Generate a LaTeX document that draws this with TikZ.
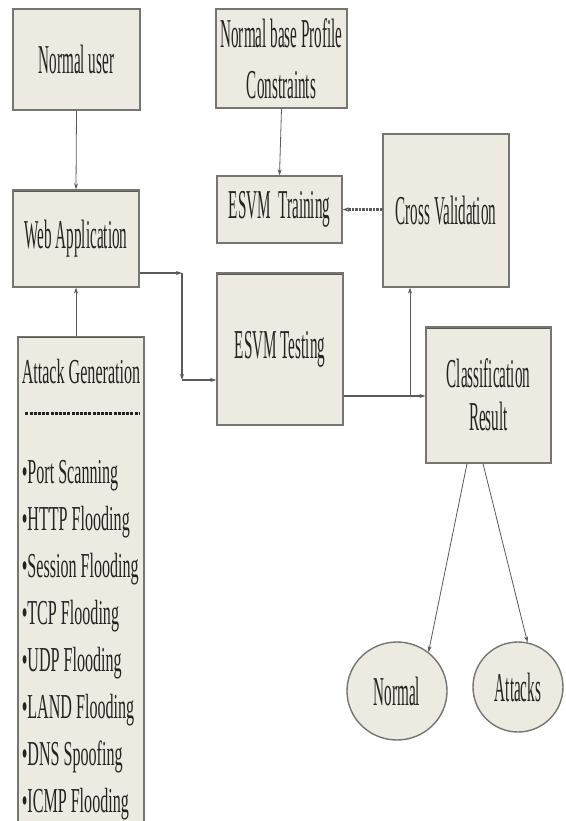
\documentclass[tikz,border=0pt]{standalone}
\usepackage{fontspec}
\setmainfont[FakeStretch=0.37]{Liberation Serif}
\usetikzlibrary{shapes.geometric,arrows.meta}
\definecolor{boxfill}{RGB}{237,235,225}
\definecolor{boxline}{RGB}{118,118,112}
\definecolor{inkgray}{RGB}{35,35,35}
\definecolor{wiregray}{RGB}{90,90,90}
\begin{document}
\begin{tikzpicture}[
        x=1pt, y=-1pt,
        box/.style={rectangle, draw=boxline, fill=boxfill, line width=1.4pt,
          text=inkgray, align=center, inner sep=2pt,
          font=\fontsize{41}{51}\selectfont,
          path picture={\draw[draw=boxline!75!black, line width=3pt]
            (path picture bounding box.north west) -- (path picture bounding box.north east);}},
        blob/.style={ellipse, draw=boxline, fill=boxfill, line width=1.4pt,
          text=inkgray, inner sep=0pt, font=\fontsize{41}{51}\selectfont},
        wire/.style={draw=wiregray, line width=0.8pt, -{Stealth[length=6pt,width=4pt]}},
        heavy/.style={wire, line width=2pt},
        dashwire/.style={wire, line width=2.6pt, dash pattern=on 2.5pt off 1pt}
      ]
      \useasboundingbox (0,0) rectangle (565,821);
      \node[box, minimum width=127pt, minimum height=101pt] (user) at (76.5,59.5) {Normal user};
      \node[box, minimum width=126pt, minimum height=97pt] (web) at (76,238.5) {Web Application};
      \node[box, minimum width=126pt, minimum height=478pt, align=left,
        font=\fontsize{35}{47}\selectfont\addfontfeature{FakeStretch=0.46}] (atk) at (81,579)
        {\rule{0pt}{45pt}Attack Generation\\[53pt]
         \textbullet Port Scanning\\
         \textbullet HTTP Flooding\\
         \textbullet Session Flooding\\
         \textbullet TCP Flooding\\
         \textbullet UDP Flooding\\
         \textbullet LAND Flooding\\
         \textbullet DNS Spoofing\\
         \textbullet ICMP Flooding};
      \node[box, minimum width=131pt, minimum height=99pt] (prof) at (281.5,58.5) {Normal base Profile\\Constraints};
      \node[box, minimum width=125pt, minimum height=67pt] (train) at (279.5,209.5) {ESVM\ \ Training};
      \node[box, minimum width=126pt, minimum height=153pt] (cv) at (446,210.5) {Cross Validation};
      \node[box, minimum width=126pt, minimum height=152pt] (test) at (280,349) {ESVM Testing};
      \node[box, minimum width=125pt, minimum height=136pt, font=\fontsize{41}{43}\selectfont] (cls) at (488.5,395) {Classification\\Result};
      \node[blob, minimum width=100pt, minimum height=98pt] (nrm) at (397,691) {Normal};
      \node[blob, minimum width=90pt, minimum height=90pt] (atks) at (518,687) {Attacks};
      \draw[draw=inkgray, line width=2.2pt, dash pattern=on 3pt off 1.2pt]
        ([xshift=8pt,yshift=-78pt]atk.north west) -- ([xshift=-5pt,yshift=-78pt]atk.north east);
      \coordinate (bendA) at (182,273);
      \coordinate (bendB) at (182,380);
      \coordinate (fork) at (410,396);
      \draw[wire] (user.south) -- (web.north);
      \draw[wire] (web.south |- atk.north) -- (web.south);
      \draw[wire] (prof.south) -- (train.north);
      \draw[dashwire] (cv.west |- train.east) -- (train.east);
      \draw[wire, line width=1.4pt] (web.east |- bendA) -- (bendA);
      \draw[wire, line width=1.4pt] (bendA) -- (bendB);
      \draw[wire, line width=1.4pt] (bendB) -- (bendB -| test.west);
      \draw[heavy] (test.east |- fork) -- (fork -| cls.west);
      \draw[wire] (fork) -- (fork |- cv.south);
      \draw[wire] ([xshift=-21.5pt]cls.south) -- (nrm.51);
      \draw[wire] ([xshift=-5.5pt]cls.south) -- (atks.78);
\end{tikzpicture}
\end{document}
